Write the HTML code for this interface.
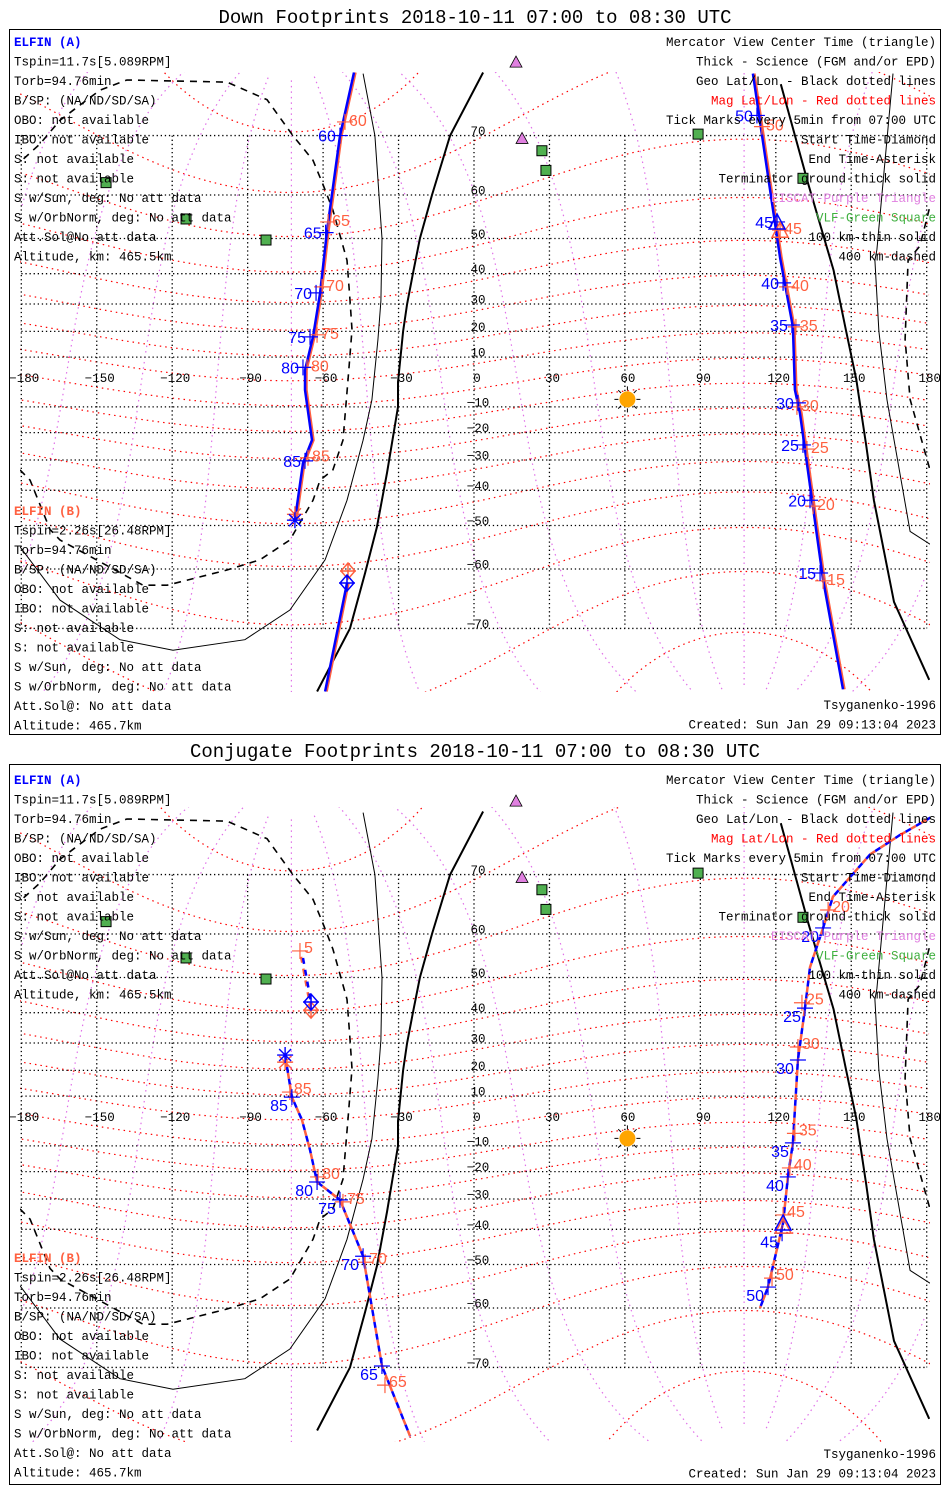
<!DOCTYPE html>
<html><head><meta charset="utf-8">
<style>
html,body{margin:0;padding:0;background:#fff;}
svg{display:block;}
</style></head>
<body>
<svg id="chart" width="950" height="1500" viewBox="0 0 950 1500" xmlns="http://www.w3.org/2000/svg">
<rect x="0" y="0" width="950" height="1500" fill="#fff"/>
<defs>
<clipPath id="clipTop"><rect x="20" y="72" width="910" height="620"/></clipPath>
<clipPath id="clipBot"><rect x="20" y="807" width="910" height="635"/></clipPath>
</defs>
<rect x="9.5" y="29.5" width="931" height="705" fill="none" stroke="#000" stroke-width="1"/>
<rect x="9.5" y="764.5" width="931" height="720" fill="none" stroke="#000" stroke-width="1"/>
<text x="475" y="23" text-anchor="middle" font-family="Liberation Mono, monospace" font-size="19">Down Footprints 2018-10-11 07:00 to 08:30 UTC</text>
<text x="475" y="757" text-anchor="middle" font-family="Liberation Mono, monospace" font-size="19">Conjugate Footprints 2018-10-11 07:00 to 08:30 UTC</text>
</svg>
<script>
// ---------- data ----------
const latTicks = [70,60,50,40,30,20,10,-10,-20,-30,-40,-50,-60,-70];
const lonTicks = [-180,-150,-120,-90,-60,-30,0,30,60,90,120,150,180];
const magLats = [-80,-70,-60,-50,-40,-30,-20,-10,0,10,20,30,40,50,60,70,80];
const magLons = [0,30,60,90,120,150,180,210,240,270,300,330];
const magPoleLat = 80.5, magPoleLon = -72.6;

const termThickLonA = [3.6,-9.5,-16.7,-21.5,-24.3,-26.6,-28.2,-30.2,-30.2,-34.6,-38.6,-43.3,-49.3,-62.4];
const termThickLatA = [77.1,70,60,50,40,30,20,0,-10,-34.4,-50.4,-60.8,-70,-77.1];
const termThickLonB = [122,133,143,148,152,156,159,167,181];
const termThickLatB = [76,62,41,20,1,-25,-43,-66,-76];
const termThinLon = [166.6,160.2,159.4,161,164.2,173.4,181.3,-180.5,-164.6,-140.8,-119.7,-91.1,-73.2,-59.2,-50.5,-44.1,-40.6,-38.2,-37,-36.6,-39.4,-44.1];
const termThinLat = [77,47,44,20,-7.2,-51.5,-54.6,-55.2,-65.7,-71.5,-72.8,-71.5,-67.3,-58.1,-43,-22.8,-7.2,16.7,31,50,70,77];
const termDashLon = [181,177.3,172.6,171.4,173.4,181.3,-180.5,-176.5,-168.6,-164.6,-131.6,-122,-98.2,-85.1,-73.2,-64,-61.2,-56.1,-52.1,-50.1,-48.5,-49.3,-50.5,-56.1,-60,-64,-72,-82.3,-98.2,-138,-148.7,-156.7,-164.6,-172.6,-180.5];
const termDashLat = [57,48,44,17,-7,-33.4,-33.4,-36.8,-51,-53.6,-63.1,-63.1,-60.2,-58.1,-53.6,-43,-36.8,-33.4,-22.8,0.8,20.6,31.4,44,56.8,62,66.3,70,74.4,76.2,76.4,75.4,73.8,72,68.8,66];

const eiscatLon = [16.7,19.1];
const eiscatLat = [78,69.6];
const vlfLon = [-146.3,-114.5,-82.7,27,28.6,89.1,130.8];
const vlfLat = [62.4,54.8,49.6,67.8,64.6,70.2,63.2];
const sunLon = 61, sunLat = -7;

// top panel (down footprints)
const downA1Lon = [-47.7,-53.3,-58.4,-61.2,-64,-67.2,-67.2,-64.4,-68,-71.2];
const downA1Lat = [77.1,70,52.1,33.8,17.9,4.8,-3.2,-22.8,-31,-48.6];
const downA2Lon = [-50.5,-59.2];
const downA2Lat = [-62.7,-77.1];
const downA3Lon = [110.9,121.7,126.8,127.6,129.6,138.8,146.7];
const downA3Lat = [77,44.7,21.7,-3.2,-12.4,-62.1,-76.9];
const downTickLabels = [60,65,70,75,80,85,50,45,40,35,30,25,20,15];
const downATickLon = [-53.3,-59,-62.8,-65.2,-68,-67.2,112.5,120.5,122.9,126.4,128.8,130.8,133.6,137.6];
const downATickLat = [70,51.5,33.8,17.9,5.9,-30.3,72.6,54.1,37.1,22.4,-8.4,-24.6,-43,-60.8];
const downBTickLon = [-51.3,-58,-60.4,-62.4,-66.4,-66,114.5,121.7,124.5,128,128.4,132.4,134.8,138.8];
const downBTickLat = [71.8,54.1,35.8,18.7,5.9,-29.2,71.2,52.1,35.8,21.7,-10,-26.1,-44.7,-62.3];

// bottom panel (conjugate footprints)
const conjA1Lon = [-68,-64.8];
const conjA1Lat = [54.8,43.2];
const conjB1Lon = [-69.2,-64.8];
const conjB1Lat = [56.4,40.8];
const conjA2Lon = [-75.1,-72.4,-68.4,-65.2,-62.4,-53.3,-44.1,-36.6,-25.4];
const conjA2Lat = [25.7,9.6,0.4,-11.6,-23.9,-30.3,-47.8,-69.8,-77.6];
const conjA3Lon = [182,169.4,157.5,142.7,138.8,133.6,131.6,128.8,126.8,124.8,122.9,116.9,113.7];
const conjA3Lat = [76.6,74.8,72.6,66.7,61.2,52.6,41.4,23.9,-8.8,-22,-38,-55.5,-60];
const conjATickLabels = [85,80,75,70,65,20,25,30,35,40,45,50];
const conjATickLon = [-72.4,-62.4,-53.3,-44.1,-36.6,138.8,131.6,128.8,126.8,124.8,122.5,116.9];
const conjATickLat = [9.6,-23.9,-30.3,-47.8,-69.8,61.2,41.4,23.9,-8.8,-22,-41.2,-55.5];
const conjBTickLabels = [5,85,80,75,70,65,20,25,30,35,40,45,50];
const conjBTickLon = [-69.2,-73.2,-62,-52.1,-43.3,-35.4,140.8,130.4,128.8,127.6,125.6,122.9,118.5];
const conjBTickLat = [56.4,11.6,-22,-31,-49.4,-72.3,64.5,43,28.6,-5,-18.6,-35.4,-53.4];

const leftA = ["Tspin=11.7s[5.089RPM]","Torb=94.76min","B/SP: (NA/ND/SD/SA)","OBO: not available","IBO: not available","S: not available","S: not available","S w/Sun, deg: No att data","S w/OrbNorm, deg: No att data","Att.Sol@No att data","Altitude, km: 465.5km"];
const leftB = ["Tspin=2.26s[26.48RPM]","Torb=94.76min","B/SP: (NA/ND/SD/SA)","OBO: not available","IBO: not available","S: not available","S: not available","S w/Sun, deg: No att data","S w/OrbNorm, deg: No att data","Att.Sol@: No att data","Altitude: 465.7km"];
const rightLegend = ["Mercator View Center Time (triangle)","Thick - Science (FGM and/or EPD)","Geo Lat/Lon - Black dotted lines","Mag Lat/Lon - Red dotted lines","Tick Marks every 5min from 07:00 UTC","Start Time-Diamond","End Time-Asterisk","Terminator ground-thick solid","EISCAT-Purple Triangle","VLF-Green Square","100 km-thin solid","400 km-dashed"];
const rightLegendColors = ["#000","#000","#000","#ff0000","#000","#000","#000","#000","#e080e0","#40b040","#000","#000"];

// ---------- helpers ----------
const NS = "http://www.w3.org/2000/svg";
const svg = document.getElementById('chart');
const BLUE = "#0000ff", ORANGE = "#ff6040";
function X(lon){ return 474 + lon*2.515; }
function Y(lat, oy){ const r=Math.PI/180; return oy + 382 - 142*Math.log(Math.tan(Math.PI/4 + lat*r/2)); }
function add(parent, tag, attrs, name){
  const el = document.createElementNS(NS, tag);
  for (const k in attrs) el.setAttribute(k, attrs[k]);
  
  
  parent.appendChild(el);
  return el;
}
function pathD(lons, lats, oy){
  let d = "", prev = null;
  for (let i=0;i<lons.length;i++){
    const lat = Math.max(-84, Math.min(84, lats[i]));
    const cmd = (prev===null || Math.abs(lons[i]-prev)>180) ? "M" : "L";
    d += cmd + X(lons[i]).toFixed(1) + "," + Y(lat,oy).toFixed(1) + " ";
    prev = lons[i];
  }
  return d;
}
function magToGeo(mlat, mlon){
  const r=Math.PI/180;
  const mx=Math.cos(mlat*r)*Math.cos(mlon*r), my=Math.cos(mlat*r)*Math.sin(mlon*r), mz=Math.sin(mlat*r);
  const t=(90-magPoleLat)*r;
  const x1=Math.cos(t)*mx+Math.sin(t)*mz, y1=my, z1=-Math.sin(t)*mx+Math.cos(t)*mz;
  const p=magPoleLon*r;
  const x2=Math.cos(p)*x1-Math.sin(p)*y1, y2=Math.sin(p)*x1+Math.cos(p)*y1;
  return [Math.atan2(y2,x2)/r, Math.asin(Math.max(-1,Math.min(1,z1)))/r];
}
function txt(parent, x, y, s, attrs, name){
  const el = add(parent, 'text', Object.assign({x:x, y:y}, attrs), name);
  el.textContent = s;
  return el;
}
function plus(g, x, y, color, name){
  add(g,'path',{d:`M${x-8},${y}H${x+8}M${x},${y-8}V${y+8}`,stroke:color,'stroke-width':1.2,fill:'none'},name);
}
function asterisk(g, x, y, color, name){
  add(g,'path',{d:`M${x-8},${y}H${x+8}M${x},${y-8}V${y+8}M${x-6},${y-6}L${x+6},${y+6}M${x-6},${y+6}L${x+6},${y-6}`,stroke:color,'stroke-width':1.4,fill:'none'},name);
}
function diamond(g, x, y, color, name){
  add(g,'path',{d:`M${x},${y-8}L${x+7},${y}L${x},${y+8}L${x-7},${y}Z M${x-8},${y}H${x+8}M${x},${y-8}V${y+8}`,stroke:color,'stroke-width':1.5,fill:'none'},name);
}
function triangle(g, x, y, color, name){
  add(g,'path',{d:`M${x},${y-8}L${x+8},${y+7}L${x-8},${y+7}Z`,stroke:color,'stroke-width':1.5,fill:'none'},name);
}

// ---------- panel ----------
function drawPanel(oy, clipId, mapTop, mapBot, kind){
  const g = add(svg,'g',{},kind+'-panel');
  const m = add(g,'g',{'clip-path':`url(#${clipId})`},kind+'-map');
  // magnetic latitude lines
  magLats.forEach(ml=>{
    const pts=[];
    for(let a=0;a<360;a+=2){ pts.push(magToGeo(ml,a)); }
    pts.sort((p,q)=>p[0]-q[0]);
    const lo=pts.map(p=>p[0]), la=pts.map(p=>p[1]);
    lo.unshift(lo[lo.length-1]-360); la.unshift(la[la.length-1]);
    lo.push(lo[1]+360); la.push(la[1]);
    add(m,'path',{d:pathD(lo,la,oy),stroke:'#ff0000','stroke-width':1.2,fill:'none','stroke-dasharray':'1.5 4'},'mag-lat-line');
  });
  // magnetic longitude lines
  magLons.forEach(ml=>{
    const lo=[], la=[];
    for(let a=-86;a<=86;a+=1){ const p=magToGeo(a,ml); lo.push(p[0]); la.push(p[1]); }
    add(m,'path',{d:pathD(lo,la,oy),stroke:'#e070e8','stroke-width':1.2,fill:'none','stroke-dasharray':'1.5 4'},'mag-lon-line');
  });
  // geographic grid
  latTicks.forEach(lt=>{
    const y=Y(lt,oy);
    add(m,'line',{x1:X(-180),x2:X(180),y1:y,y2:y,stroke:'#000','stroke-width':1.3,'stroke-dasharray':'1.3 2.8'},'geo-lat-line');
  });
  lonTicks.forEach(ln=>{
    const x=X(ln);
    add(m,'line',{x1:x,x2:x,y1:Y(70,oy),y2:Y(-70,oy),stroke:'#000','stroke-width':1.3,'stroke-dasharray':'1.3 2.8'},'geo-lon-line');
  });
  // terminators
  add(m,'path',{d:pathD(termThickLonA,termThickLatA,oy),stroke:'#000','stroke-width':2,fill:'none'},'terminator-ground-west');
  add(m,'path',{d:pathD(termThickLonB,termThickLatB,oy),stroke:'#000','stroke-width':2,fill:'none'},'terminator-ground-east');
  add(m,'path',{d:pathD(termThinLon,termThinLat,oy),stroke:'#000','stroke-width':1,fill:'none'},'terminator-100km');
  add(m,'path',{d:pathD(termDashLon,termDashLat,oy),stroke:'#000','stroke-width':1.6,fill:'none','stroke-dasharray':'7 6'},'terminator-400km');
  // sites
  vlfLon.forEach((ln,i)=>{
    add(g,'rect',{x:X(ln)-5,y:Y(vlfLat[i],oy)-5,width:10,height:10,fill:'#50b050',stroke:'#000','stroke-width':1},'vlf-station');
  });
  eiscatLon.forEach((ln,i)=>{
    const x=X(ln), y=Y(eiscatLat[i],oy);
    add(g,'path',{d:`M${x},${y-6}L${x+6},${y+5}L${x-6},${y+5}Z`,fill:'#e080e0',stroke:'#000','stroke-width':0.8},'eiscat-site');
  });
  // sun
  const sx=X(sunLon), sy=Y(sunLat,oy);
  let rays="";
  for(let k=0;k<8;k++){const a=k*Math.PI/4; rays+=`M${sx+9*Math.cos(a)},${sy+9*Math.sin(a)}L${sx+13*Math.cos(a)},${sy+13*Math.sin(a)}`;}
  add(g,'path',{d:rays,stroke:'#000','stroke-width':1},'sun-rays');
  add(g,'circle',{cx:sx,cy:sy,r:8,fill:'#ffa500'},'subsolar-point');
  // axis labels
  latTicks.forEach(lt=>{
    txt(g,478,Y(lt,oy)-0.5,(lt<0?'\u2212':'')+Math.abs(lt),{'text-anchor':'middle','font-family':'Liberation Mono, monospace','font-size':12.5},'lat-tick-label');
  });
  lonTicks.forEach(ln=>{
    txt(g,X(ln)+3,oy+382,(ln<0?'\u2212':'')+Math.abs(ln),{'text-anchor':'middle','font-family':'Liberation Mono, monospace','font-size':12.5},'lon-tick-label');
  });
  return {g:g, m:m};
}

function track(parent, lons, lats, oy, color, width, dash, name){
  const at={d:pathD(lons,lats,oy),stroke:color,'stroke-width':width,fill:'none'};
  if(dash){ at['stroke-dasharray']=dash.a; at['stroke-dashoffset']=dash.o; }
  add(parent,'path',at,name);
}
function ticks(g, labels, lons, lats, oy, color, side, dy, name){
  labels.forEach((lb,i)=>{
    const x=X(lons[i]), y=Y(lats[i],oy);
    plus(g,x,y,color,name+'-tick');
    const tx = side<0 ? x-4 : x+4;
    txt(g,tx,y+6+dy,String(lb),{'text-anchor':side<0?'end':'start','font-family':'Liberation Sans, sans-serif','font-size':16,fill:color},name+'-time-label');
  });
}

function textBlocks(g, aTop, bTop, footTop){
  txt(g,14,aTop+5,"ELFIN (A)",{'font-family':'Liberation Mono, monospace','font-size':12.5,'font-weight':'bold',fill:BLUE},'elfin-a-header');
  leftA.forEach((s,i)=>txt(g,14,aTop+5+19.5*(i+1),s,{'font-family':'Liberation Mono, monospace','font-size':12.5},'elfin-a-info'));
  txt(g,14,bTop+5,"ELFIN (B)",{'font-family':'Liberation Mono, monospace','font-size':12.5,'font-weight':'bold',fill:ORANGE},'elfin-b-header');
  leftB.forEach((s,i)=>txt(g,14,bTop+5+19.5*(i+1),s,{'font-family':'Liberation Mono, monospace','font-size':12.5},'elfin-b-info'));
  rightLegend.forEach((s,i)=>txt(g,936,aTop+5+19.5*i,s,{'text-anchor':'end','font-family':'Liberation Mono, monospace','font-size':12.5,fill:rightLegendColors[i]},'legend-entry'));
  txt(g,936,footTop+5,"Tsyganenko-1996",{'text-anchor':'end','font-family':'Liberation Mono, monospace','font-size':12.5},'model-label');
  txt(g,936,footTop+24.5,"Created: Sun Jan 29 09:13:04 2023",{'text-anchor':'end','font-family':'Liberation Mono, monospace','font-size':12.5},'created-label');
}

// ---------- top panel ----------
{
  const oy=0;
  const P=drawPanel(oy,'clipTop',72,692,'down');
  [[downA1Lon,downA1Lat],[downA2Lon,downA2Lat],[downA3Lon,downA3Lat]].forEach(s=>{
    track(P.m,s[0].map(v=>v+0.6),s[1],oy,ORANGE,2.5,null,'elfin-b-track');
    track(P.m,s[0],s[1],oy,BLUE,2.5,null,'elfin-a-track');
  });
  ticks(P.g,downTickLabels,downBTickLon,downBTickLat,oy,ORANGE,1,-2,'elfin-b');
  ticks(P.g,downTickLabels,downATickLon,downATickLat,oy,BLUE,-1,0,'elfin-a');
  diamond(P.g,X(-50.1),Y(-60.4,oy),ORANGE,'elfin-b-start');
  diamond(P.g,X(downA2Lon[0]),Y(downA2Lat[0],oy),BLUE,'elfin-a-start');
  asterisk(P.g,X(-71.2),Y(-47,oy),ORANGE,'elfin-b-end');
  asterisk(P.g,X(downA1Lon[9]),Y(downA1Lat[9],oy),BLUE,'elfin-a-end');
  triangle(P.g,X(downBTickLon[7]),Y(downBTickLat[7],oy),ORANGE,'elfin-b-center-time');
  triangle(P.g,X(downATickLon[7]),Y(downATickLat[7],oy),BLUE,'elfin-a-center-time');
  textBlocks(P.g,41,510,704);
}
// ---------- bottom panel ----------
{
  const oy=739;
  const P=drawPanel(oy,'clipBot',807,1442,'conjugate');
  track(P.m,conjB1Lon,conjB1Lat,oy,ORANGE,2.5,{a:'6 6',o:6},'elfin-b-track');
  track(P.m,conjA1Lon,conjA1Lat,oy,BLUE,2.5,{a:'6 6',o:0},'elfin-a-track');
  [[conjA2Lon,conjA2Lat],[conjA3Lon,conjA3Lat]].forEach(s=>{
    track(P.m,s[0],s[1],oy,ORANGE,2.5,{a:'6 6',o:6},'elfin-b-track');
    track(P.m,s[0],s[1],oy,BLUE,2.5,{a:'6 6',o:0},'elfin-a-track');
  });
  ticks(P.g,conjBTickLabels,conjBTickLon,conjBTickLat,oy,ORANGE,1,-4,'elfin-b');
  ticks(P.g,conjATickLabels,conjATickLon,conjATickLat,oy,BLUE,-1,8,'elfin-a');
  diamond(P.g,X(-64.8),Y(40.8,oy),ORANGE,'elfin-b-start');
  diamond(P.g,X(conjA1Lon[1]),Y(conjA1Lat[1],oy),BLUE,'elfin-a-start');
  asterisk(P.g,X(-75.1),Y(23.1,oy),ORANGE,'elfin-b-end');
  asterisk(P.g,X(conjA2Lon[0]),Y(conjA2Lat[0],oy),BLUE,'elfin-a-end');
  triangle(P.g,X(122.9),Y(-39,oy),ORANGE,'elfin-b-center-time');
  triangle(P.g,X(122.9),Y(-38,oy),BLUE,'elfin-a-center-time');
  textBlocks(P.g,779,1257,1453);
}
</script>
</body></html>
